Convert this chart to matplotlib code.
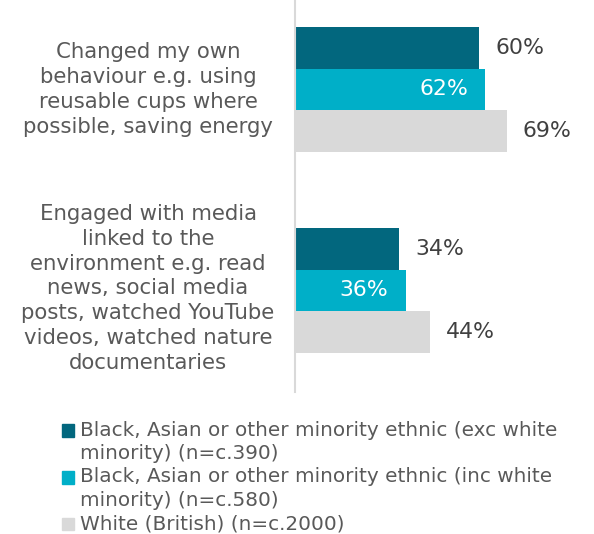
import matplotlib
matplotlib.use("Agg")
import matplotlib.pyplot as plt
from matplotlib.patches import Rectangle
from matplotlib.transforms import blended_transform_factory
import numpy as np

categories = [
    "Changed my own\nbehaviour e.g. using\nreusable cups where\npossible, saving energy",
    "Engaged with media\nlinked to the\nenvironment e.g. read\nnews, social media\nposts, watched YouTube\nvideos, watched nature\ndocumentaries",
]
series_labels = [
    "Black, Asian or other minority ethnic (exc white\nminority) (n=c.390)",
    "Black, Asian or other minority ethnic (inc white\nminority) (n=c.580)",
    "White (British) (n=c.2000)",
]
values_exc_white_minority = [60, 34]
values_inc_white_minority = [62, 36]
values_white_british = [69, 44]

series_values = [values_exc_white_minority, values_inc_white_minority, values_white_british]
colors = ["#02677e", "#00afc8", "#d9d9d9"]
label_colors = ["#404040", "#ffffff", "#404040"]
text_grey = "#595959"

plt.rcParams["font.family"] = ["DejaVu Sans"]

W, H = 594, 534
PT = 72 / 100  # points per pixel at 100 dpi
fig = plt.figure(figsize=(W / 100, H / 100), dpi=100)
ax = fig.add_axes([295 / W, (H - 392) / H, 299 / W, 392 / H])

bar_h = 0.2075
y = np.arange(len(categories), dtype=float)
offsets = [-bar_h, 0.0, bar_h]

for vals, off, col, lcol in zip(series_values, offsets, colors, label_colors):
    bars = ax.barh(y + off, vals, height=bar_h, color=col, edgecolor="none")
    for rect, v in zip(bars, vals):
        yc = rect.get_y() + rect.get_height() / 2
        if lcol == "#ffffff":
            ax.annotate(f"{v}%", (v, yc), xytext=(-17 * PT, 0), textcoords="offset points",
                        ha="right", va="center", color=lcol, fontsize=15.8)
        else:
            ax.annotate(f"{v}%", (v, yc), xytext=(16 * PT, 0), textcoords="offset points",
                        ha="left", va="center", color=lcol, fontsize=15.8)

ax.set_xlim(0, 299 / 3.07)
ax.set_ylim(1 + 0.505, -0.445)
for s in ["top", "right", "bottom"]:
    ax.spines[s].set_visible(False)
ax.spines["left"].set_color("#d9d9d9")
ax.spines["left"].set_linewidth(1.5)
ax.set_xticks([])
ax.set_yticks([])

# category labels, centred in the space left of the axis
trans = blended_transform_factory(ax.transAxes, ax.transData)
label_shift = [0.0, -0.01]
for yc, cat, dy in zip(y, categories, label_shift):
    ax.text(-147 / 299, yc + dy, cat, transform=trans, ha="center", va="center",
            fontsize=15.3, color=text_grey, linespacing=1.3)

# legend drawn as squares and wrapped text
leg_x = 61.7
leg_rows = [430.5, 477.5, 524]
for lab, col, ry in zip(series_labels, colors, leg_rows):
    fig.patches.append(Rectangle((leg_x / W, (H - ry - 6.3) / H), 12.6 / W, 12.6 / H,
                                 transform=fig.transFigure, color=col))
    fig.text(80 / W, (H - ry + 10) / H, lab, ha="left", va="top", fontsize=14.4,
             color=text_grey, linespacing=1.27)

fig.savefig("out.png", dpi=100)
